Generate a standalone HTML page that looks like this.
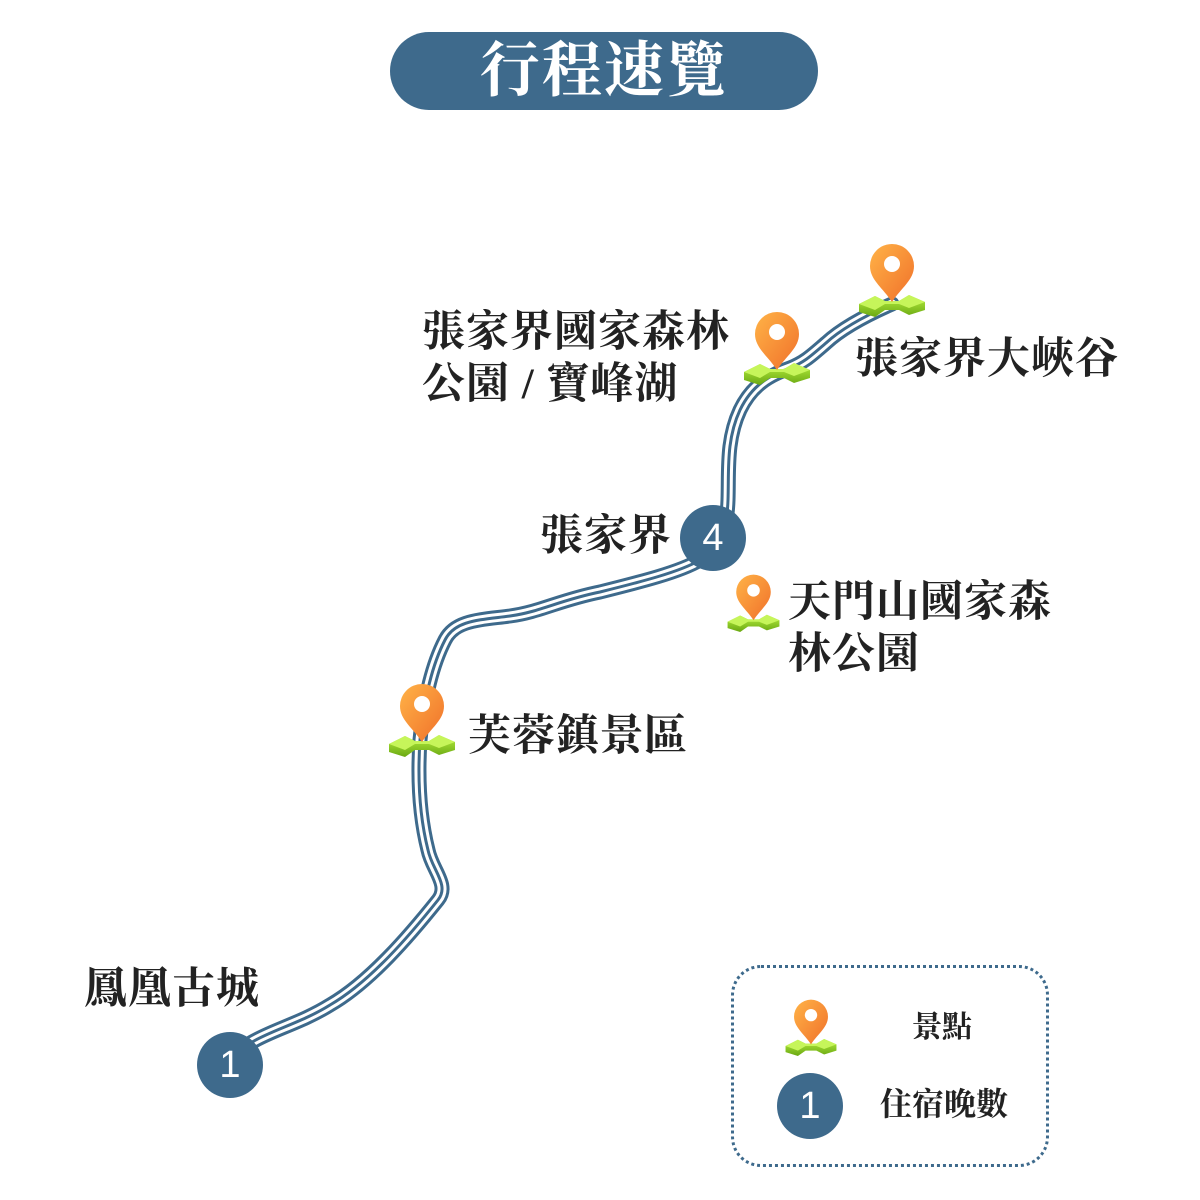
<!DOCTYPE html>
<html><head><meta charset="utf-8"><style>
body{margin:0;width:1200px;height:1200px;background:#fff;position:relative;overflow:hidden;font-family:"Liberation Serif","Noto Serif CJK SC","Noto Sans CJK TC",serif;}
.t{position:absolute;font-weight:bold;color:#222;font-size:43px;letter-spacing:1px;line-height:52px;white-space:nowrap;}
.pill{position:absolute;left:390px;top:32px;width:428px;height:78px;border-radius:39px;background:#3e6a8c;color:#fff;text-align:center;font-size:60px;line-height:78px;font-weight:bold;letter-spacing:2px;}
.c{position:absolute;width:66px;height:66px;border-radius:50%;background:#3e6a8c;color:#fff;text-align:center;line-height:66px;font-size:38px;font-family:"Liberation Sans",sans-serif;}
.legend{position:absolute;left:731px;top:965px;width:312px;height:196px;border:3px dotted #3e6a8c;border-radius:30px;}
</style></head><body>
<div class="pill">行程速覽</div>
<svg width="1200" height="1200" style="position:absolute;left:0;top:0">
<defs>
<linearGradient id="og" x1="0" y1="0" x2="1" y2="1"><stop offset="0" stop-color="#ffb347"/><stop offset="1" stop-color="#f0702a"/></linearGradient>
<linearGradient id="gg" x1="0" y1="0" x2="0" y2="1"><stop offset="0" stop-color="#b8f040"/><stop offset="1" stop-color="#6aa812"/></linearGradient>
<path id="r" d="M232 1062 C245 1035 290 1030 330 1005 C370 982 410 935 438 900 C450 885 432 870 428 850 C418 810 418 770 420 740 C424 700 432 665 445 640 C455 620 480 620 510 616 C540 612 560 600 600 592 C640 582 680 572 700 560 C720 548 727 530 728 500 C729 470 726 440 740 410 C752 385 770 375 790 368 C805 362 812 355 826 343 C840 330 860 318 892 304"/>
<symbol id="pin" viewBox="0 0 70 80">
<path d="M2 62 L18 54 L28 59 L42 59 L52 53 L68 60 L68 68 L52 73 L42 68 L28 68 L18 75 L2 70Z" fill="url(#gg)"/>
<path d="M2 62 L18 54 L28 59 L42 59 L52 53 L68 60 L52 66 L42 62 L28 62 L18 68Z" fill="#c6f55a"/>
<path d="M35 60 C26 46 13 38 13 24 A22 22 0 0 1 57 24 C57 38 44 46 35 60Z" fill="url(#og)"/>
<circle cx="35" cy="22" r="8" fill="#fff"/>
</symbol>
</defs>
<g fill="none" stroke-linecap="round" stroke-linejoin="round">
<use href="#r" stroke="#3e6a8c" stroke-width="15"/>
<use href="#r" stroke="#fff" stroke-width="9"/>
<use href="#r" stroke="#3e6a8c" stroke-width="3"/>
</g>
<use href="#pin" x="857" y="242" width="70" height="80"/>
<use href="#pin" x="742" y="310" width="70" height="80"/>
<use href="#pin" x="387" y="682" width="70" height="80"/>
<use href="#pin" x="726" y="573" width="55" height="63"/>
<use href="#pin" x="784" y="998" width="54" height="62"/>
</svg>
<div class="c" style="left:197px;top:1032px">1</div>
<div class="c" style="left:680px;top:505px">4</div>
<div class="c" style="left:777px;top:1073px">1</div>
<div class="t" style="left:422px;top:307px">張家界國家森林</div>
<div class="t" style="left:422px;top:359px">公園 / 寶峰湖</div>
<div class="t" style="left:855px;top:334px">張家界大峽谷</div>
<div class="t" style="left:540px;top:511px">張家界</div>
<div class="t" style="left:788px;top:577px">天門山國家森</div>
<div class="t" style="left:788px;top:629px">林公園</div>
<div class="t" style="left:468px;top:711px">芙蓉鎮景區</div>
<div class="t" style="left:84px;top:964px">鳳凰古城</div>
<div class="legend"></div>
<div class="t" style="left:912px;top:1010px;font-size:30px;line-height:36px;letter-spacing:0">景點</div>
<div class="t" style="left:880px;top:1086px;font-size:32px;line-height:36px;letter-spacing:0">住宿晚數</div>
</body></html>
